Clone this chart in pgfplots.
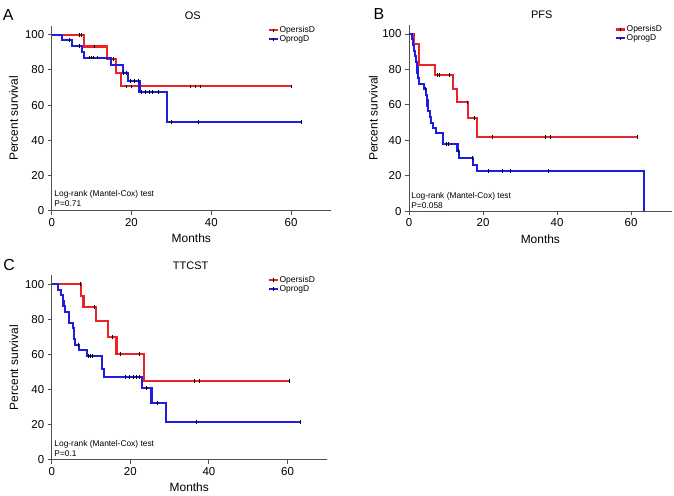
\documentclass[border=0pt]{standalone}
\usepackage{fontspec}
\setmainfont{Liberation Sans}
\usepackage{pgfplots}
\pgfplotsset{compat=1.18}
\definecolor{kmred}{RGB}{235,35,40}
\definecolor{kmblue}{RGB}{30,30,225}
\definecolor{axgray}{RGB}{80,80,80}
\pgfplotsset{
  km/.style={
    scale only axis,
    anchor=south west,
    axis x line*=bottom,
    axis y line*=left,
    xmin=0, xmax=70, ymin=0, ymax=105,
    xtick={0,20,40,60},
    ytick={0,20,40,60,80,100},
    tick align=outside,
    major tick length=4bp,
    axis line style={axgray, line width=0.9bp},
    tick style={axgray, line width=0.9bp},
    tick label style={font=\fontsize{11.5}{12}\selectfont},
    /pgf/number format/assume math mode=true,
    xlabel={Months},
    ylabel={Percent survival},
    xlabel style={at={(axis description cs:0.5,0)}, anchor=center, yshift=-28bp, font=\fontsize{12}{13}\selectfont},
    every axis title shift=0pt,
    title style={at={(axis description cs:0.505,1)}, anchor=base, yshift=6.4bp, font=\fontsize{11}{12}\selectfont},
    legend cell align=left,
    legend style={draw=none, fill=none, font=\fontsize{8.5}{9.5}\selectfont, inner sep=0pt, outer sep=0pt,
      nodes={inner sep=0.6bp}, row sep=0.2bp},
    legend image code/.code={
      \draw[#1] (0bp,0bp) -- (9bp,0bp);
      \draw[black, line width=0.8bp] (4.5bp,-1.7bp) -- (4.5bp,1.7bp);
    },
  },
  redkm/.style={color=kmred, line width=2.1bp, const plot, mark=none},
  bluekm/.style={color=kmblue, line width=2.1bp, const plot, mark=none},
  cens/.style={color=black, only marks, mark=|, mark size=1.9bp, line width=0.8bp, forget plot},
}
\begin{document}
\begin{tikzpicture}[x=1bp,y=1bp]
\useasboundingbox (0,0) rectangle (674,496);

% Panel letters
\node[anchor=base west, inner sep=0, font=\fontsize{16}{16}\selectfont] at (2.7,475.3) {A};
\node[anchor=base west, inner sep=0, font=\fontsize{16}{16}\selectfont] at (373.3,476) {B};
\node[anchor=base west, inner sep=0, font=\fontsize{16}{16}\selectfont] at (3.3,225.3) {C};

% ---------------- Panel A: OS ----------------
\begin{axis}[km, at={(51.7bp,285.3bp)}, width=279.3bp, height=184.8bp, title={OS},
  ylabel style={at={(axis description cs:-0.136,0.5)}, anchor=center, font=\fontsize{12}{13}\selectfont},
  legend style={at={(axis description cs:0.774,1)}, anchor=north west}]
\addplot[redkm] coordinates {(0,100) (8.2,93.3) (13.9,86.2) (16.1,78.4) (17.4,70.6) (60.1,70.6)};
\addlegendentry{OpersisD}
\addplot[bluekm] coordinates {(0,100) (2.6,96.8) (5.0,93.6) (7.5,90.3) (8.2,87.0) (14.9,82.6) (17.8,78.4) (19.2,73.9) (22.0,67.6) (28.8,50.4) (62.7,50.4)};
\addlegendentry{OprogD}
\addplot[cens] coordinates {(7.0,100) (7.5,100) (10.7,93.3) (15.4,86.2) (18.7,70.6) (20.0,70.6) (34.8,70.6) (36.0,70.6) (37.2,70.6) (60.1,70.6)};
\addplot[cens] coordinates {(4.5,96.8) (6.9,93.6) (9.5,87.0) (10.0,87.0) (10.5,87.0) (11.4,87.0) (17.9,78.4) (18.6,78.4) (19.8,73.9) (20.7,73.9) (21.7,73.9) (22.6,67.6) (23.5,67.6) (24.4,67.6) (25.3,67.6) (26.7,67.6) (29.9,50.4) (36.7,50.4) (62.7,50.4)};
\node[anchor=base west, inner sep=0, font=\fontsize{8.4}{9}\selectfont] at (rel axis cs:0,0) [xshift=2.6bp, yshift=14.5bp] {Log-rank (Mantel-Cox) test};
\node[anchor=base west, inner sep=0, font=\fontsize{8.4}{9}\selectfont] at (rel axis cs:0,0) [xshift=2.6bp, yshift=4.5bp] {P=0.71};
\end{axis}

% ---------------- Panel B: PFS ----------------
\begin{axis}[km, at={(409bp,284.7bp)}, width=262.7bp, height=186.2bp, xmax=71, title={PFS},
  ylabel style={at={(axis description cs:-0.136,0.5)}, anchor=center, font=\fontsize{12}{13}\selectfont},
  legend style={at={(axis description cs:0.784,1)}, anchor=north west}]
\addplot[redkm] coordinates {(0,100) (1.4,94.4) (2.8,82.6) (7.0,76.7) (11.8,69.0) (12.9,61.4) (16.0,52.6) (18.4,42.1) (61.8,42.1)};
\addlegendentry{OpersisD}
\addplot[bluekm] coordinates {(0,100) (0.7,97.2) (1.0,93.8) (1.3,90.6) (1.6,87.5) (1.8,84.4) (2.1,81.3) (2.3,78.1) (2.5,75.0) (2.8,72.0) (4.1,68.8) (4.5,65.6) (4.8,62.5) (5.0,59.4) (5.1,56.3) (5.7,53.1) (6.0,50.0) (6.6,46.9) (7.3,43.9) (9.3,37.8) (13.1,33.8) (13.6,30.1) (17.4,26.3) (18.3,22.7) (63.5,0)};
\addlegendentry{OprogD}
\addplot[cens] coordinates {(7.6,76.7) (8.3,76.7) (10.9,76.7) (15.8,61.4) (17.8,52.6) (22.6,42.1) (36.9,42.1) (38.3,42.1) (61.8,42.1)};
\addplot[cens] coordinates {(4.4,68.8) (10.0,37.8) (10.6,37.8) (13.3,33.8) (17.0,30.1) (21.4,22.7) (25.2,22.7) (27.4,22.7) (37.6,22.7)};
\node[anchor=base west, inner sep=0, font=\fontsize{8.4}{9}\selectfont] at (rel axis cs:0,0) [xshift=2.2bp, yshift=12.4bp] {Log-rank (Mantel-Cox) test};
\node[anchor=base west, inner sep=0, font=\fontsize{8.4}{9}\selectfont] at (rel axis cs:0,0) [xshift=2.2bp, yshift=2.4bp] {P=0.058};
\end{axis}

% ---------------- Panel C: TTCST ----------------
\begin{axis}[km, at={(51.7bp,36.3bp)}, width=275.1bp, height=184.2bp, title={TTCST},
  ylabel style={at={(axis description cs:-0.138,0.5)}, anchor=center, font=\fontsize{12}{13}\selectfont},
  legend style={at={(axis description cs:0.786,1)}, anchor=north west}]
\addplot[redkm] coordinates {(0,100) (7.5,93.5) (8.1,86.9) (11.2,78.9) (14.4,70.1) (16.5,60.2) (23.4,44.9) (60.6,44.9)};
\addlegendentry{OpersisD}
\addplot[bluekm] coordinates {(0,100) (1.7,96.9) (2.3,93.8) (2.8,90.6) (3.0,87.5) (3.3,84.4) (4.5,78.1) (5.4,75.0) (5.6,71.9) (5.7,68.8) (5.9,65.6) (7.0,62.4) (8.9,59.2) (12.8,51.5) (13.2,47.3) (22.9,40.7) (25.4,32.5) (29.0,21.7) (63.4,21.7)};
\addlegendentry{OprogD}
\addplot[cens] coordinates {(7.2,100) (10.8,86.9) (15.4,70.1) (17.6,60.2) (22.2,60.2) (36.3,44.9) (37.6,44.9) (60.6,44.9)};
\addplot[cens] coordinates {(6.9,65.6) (9.4,59.2) (9.9,59.2) (10.3,59.2) (18.7,47.3) (19.7,47.3) (20.7,47.3) (21.6,47.3) (22.3,47.3) (24.2,40.7) (26.9,32.5) (36.9,21.7) (63.4,21.7)};
\node[anchor=base west, inner sep=0, font=\fontsize{8.4}{9}\selectfont] at (rel axis cs:0,0) [xshift=2.6bp, yshift=13.4bp] {Log-rank (Mantel-Cox) test};
\node[anchor=base west, inner sep=0, font=\fontsize{8.4}{9}\selectfont] at (rel axis cs:0,0) [xshift=2.6bp, yshift=3.4bp] {P=0.1};
\end{axis}
\end{tikzpicture}
\end{document}
